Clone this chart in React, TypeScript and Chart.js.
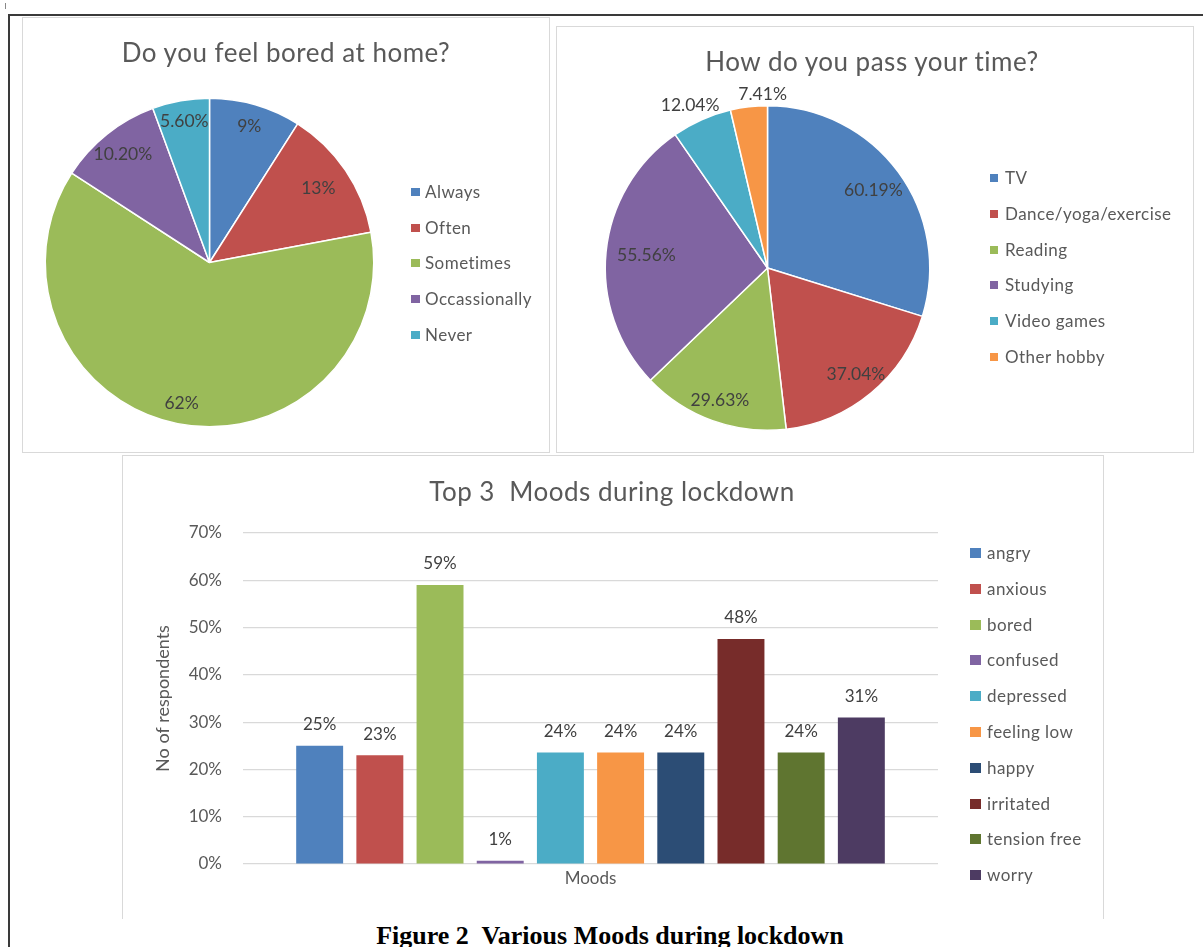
import React, { useEffect, useRef } from 'react';
import { Chart, registerables } from 'chart.js';

Chart.register(...registerables);

// ---------- data ----------
const boredLabels = ['Always', 'Often', 'Sometimes', 'Occassionally', 'Never'];
const boredValues = [9, 13, 62, 10.2, 5.6];
const boredColors = ['#4F81BD', '#C0504D', '#9BBB59', '#8064A2', '#4BACC6'];

const timeLabels = ['TV', 'Dance/yoga/exercise', 'Reading', 'Studying', 'Video games', 'Other hobby'];
const timeValues = [60.19, 37.04, 29.63, 55.56, 12.04, 7.41];
const timeColors = ['#4F81BD', '#C0504D', '#9BBB59', '#8064A2', '#4BACC6', '#F79646'];

const moodLabels = ['angry', 'anxious', 'bored', 'confused', 'depressed', 'feeling low', 'happy', 'irritated', 'tension free', 'worry'];
const moodValues = [25, 23, 59, 0.7, 23.6, 23.6, 23.6, 47.6, 23.6, 31];
const moodColors = ['#4F81BD', '#C0504D', '#9BBB59', '#8064A2', '#4BACC6', '#F79646', '#2C4D75', '#772C2A', '#5F7530', '#4D3B62'];
const moodCategory = ['Moods'];
const yMin = 0;
const yMax = 70;
const yStep = 10;

const FONT = 'Lato';
const TEXT = '#595959';
const LABEL = '#404040';

Chart.defaults.font.family = FONT;

const fmtPct = (v: number) => (Number.isInteger(v) ? `${v}%` : `${v.toFixed(2)}%`);

const sliceLabelPlugin = {
  id: 'sliceLabels',
  afterDatasetsDraw(chart: any, _args: any, opts: any) {
    if (!opts || !opts.radii) return;
    const ctx = chart.ctx;
    const meta = chart.getDatasetMeta(0);
    const values = chart.data.datasets[0].data as number[];
    ctx.save();
    ctx.font = `${opts.size}px ${FONT}`;
    ctx.fillStyle = LABEL;
    ctx.textAlign = 'center';
    ctx.textBaseline = 'middle';
    meta.data.forEach((arc: any, i: number) => {
      const p = arc.getProps(['x', 'y', 'startAngle', 'endAngle', 'outerRadius'], true);
      const a = (p.startAngle + p.endAngle) / 2 + ((opts.shifts && opts.shifts[i]) || 0) * Math.PI / 180;
      const r = p.outerRadius * opts.radii[i];
      ctx.fillText(fmtPct(values[i]), p.x + r * Math.cos(a), p.y + r * Math.sin(a));
    });
    ctx.restore();
  },
};

const barLabelPlugin = {
  id: 'barLabels',
  afterDatasetsDraw(chart: any, _args: any, opts: any) {
    const ctx = chart.ctx;
    ctx.save();
    ctx.font = `${opts.size}px ${FONT}`;
    ctx.fillStyle = LABEL;
    ctx.textAlign = 'center';
    ctx.textBaseline = 'middle';
    chart.data.datasets.forEach((ds: any, di: number) => {
      const meta = chart.getDatasetMeta(di);
      meta.data.forEach((bar: any, i: number) => {
        const p = bar.getProps(['x', 'y'], true);
        ctx.fillText(`${Math.round(ds.data[i])}%`, p.x, p.y - opts.gap);
      });
    });
    ctx.restore();
  },
};

function ChartBox({ left, top, width, height, config }: any) {
  const ref = useRef<HTMLCanvasElement>(null);
  useEffect(() => {
    const chart = new Chart(ref.current as HTMLCanvasElement, config);
    return () => chart.destroy();
  }, []);
  return (
    <canvas
      ref={ref}
      width={width}
      height={height}
      style={{ position: 'absolute', left, top, width, height }}
    />
  );
}

function CenterText({ cx, cy, size, text, style }: any) {
  const lh = Math.round(size * 1.3);
  return (
    <div
      style={{
        position: 'absolute',
        left: cx - 400,
        width: 800,
        top: cy - lh / 2,
        height: lh,
        lineHeight: `${lh}px`,
        fontSize: size,
        textAlign: 'center',
        whiteSpace: 'pre',
        fontFamily: FONT,
        color: TEXT,
        ...style,
      }}
    >
      {text}
    </div>
  );
}

function Legend({ labels, colors, markerX, textX, y0, step, size, mw, mh }: any) {
  const lh = Math.round(size * 1.3);
  return (
    <>
      {labels.map((l: string, i: number) => {
        const cy = y0 + step * i;
        return (
          <React.Fragment key={l}>
            <div style={{ position: 'absolute', left: markerX, top: cy - mh / 2, width: mw, height: mh, background: colors[i] }} />
            <div
              style={{
                position: 'absolute', left: textX, top: cy - lh / 2, height: lh, lineHeight: `${lh}px`,
                fontSize: size, fontFamily: FONT, color: TEXT, whiteSpace: 'pre', letterSpacing: 0.45,
              }}
            >
              {l}
            </div>
          </React.Fragment>
        );
      })}
    </>
  );
}

function Box({ left, top, width, height, color = '#d9d9d9', noBottom = false }: any) {
  return (
    <div
      style={{
        position: 'absolute', left, top, width, height, boxSizing: 'border-box',
        borderTop: `1px solid ${color}`, borderLeft: `1px solid ${color}`, borderRight: `1px solid ${color}`,
        borderBottom: noBottom ? 'none' : `1px solid ${color}`,
      }}
    />
  );
}

const pieBase = (labels: string[], values: number[], colors: string[], padding: any, radii: number[], shifts: number[]) => ({
  type: 'pie',
  data: {
    labels,
    datasets: [{ data: values, backgroundColor: colors, borderColor: '#ffffff', borderWidth: 1.5 }],
  },
  options: {
    responsive: false,
    animation: false,
    events: [],
    layout: { padding },
    plugins: {
      legend: { display: false },
      tooltip: { enabled: false },
      title: { display: false },
      sliceLabels: { radii, shifts, size: 17.5 },
    },
  },
  plugins: [sliceLabelPlugin],
});

const boredConfig = pieBase(
  boredLabels, boredValues, boredColors,
  { left: 21.5, top: 79.5, right: 173.5, bottom: 24.5 },
  [0.865, 0.8, 0.875, 0.845, 0.875],
  [0, 0, 0, 0, 0],
);

const timeConfig = pieBase(
  timeLabels, timeValues, timeColors,
  { left: 47.5, top: 78, right: 262.5, bottom: 21 },
  [0.81, 0.855, 0.865, 0.75, 1.11, 1.07],
  [0, 0, 0, 0, -1.5, 5],
);

const barConfig = {
  type: 'bar',
  data: {
    labels: moodCategory,
    datasets: moodLabels.map((l, i) => ({
      label: l,
      data: [moodValues[i]],
      backgroundColor: moodColors[i],
      barPercentage: 0.78,
      categoryPercentage: 0.866,
    })),
  },
  options: {
    responsive: false,
    animation: false,
    events: [],
    layout: { padding: { left: 0, right: 164, top: 77, bottom: 0 } },
    plugins: {
      legend: { display: false },
      tooltip: { enabled: false },
      barLabels: { size: 17, gap: 21 },
    },
    scales: {
      x: {
        grid: { display: false },
        border: { display: false },
        ticks: { display: false },
        title: { display: true, text: 'Moods', color: TEXT, font: { size: 17 }, padding: { top: 0, bottom: 28 } },
        afterFit: (s: any) => { s.height = 53; },
      },
      y: {
        min: yMin,
        max: yMax,
        ticks: { stepSize: yStep, callback: (v: any) => `${v}%`, color: TEXT, font: { size: 17 }, padding: 21 },
        grid: { color: '#d9d9d9', drawTicks: false, lineWidth: 1.2 },
        border: { display: false },
        title: { display: true, text: 'No of respondents', color: TEXT, font: { size: 18 }, padding: { top: 29, bottom: 0 } },
        afterFit: (s: any) => { s.width = 120; },
      },
    },
  },
  plugins: [barLabelPlugin],
};

export default function App() {
  return (
    <div style={{ position: 'absolute', left: 0, top: 0, width: 1203, height: 947, overflow: 'hidden', background: '#ffffff' }}>
      {/* page frame */}
      <div style={{ position: 'absolute', left: 8, top: 14, width: 1195, height: 2, background: '#3a3a3a' }} />
      <div style={{ position: 'absolute', left: 8, top: 14, width: 2, height: 933, background: '#3a3a3a' }} />
      <div style={{ position: 'absolute', left: 5, top: 3, width: 1, height: 6, background: '#888' }} />

      {/* panels */}
      <Box left={22} top={17} width={528} height={436} />
      <Box left={556} top={26} width={638} height={427} />
      <Box left={122} top={455} width={982} height={464} noBottom />

      {/* left pie */}
      <ChartBox left={23} top={18} width={525} height={434} config={boredConfig} />
      <CenterText cx={286} cy={52} size={26} text="Do you feel bored at home?" style={{ letterSpacing: 0.5 }} />
      <Legend labels={boredLabels} colors={boredColors} markerX={411} textX={425} y0={192} step={35.7} size={17} mw={9} mh={8} />

      {/* right pie */}
      <ChartBox left={557} top={27} width={636} height={425} config={timeConfig} />
      <CenterText cx={872} cy={61} size={26} text="How do you pass your time?" style={{ letterSpacing: 0.5 }} />
      <Legend labels={timeLabels} colors={timeColors} markerX={990} textX={1005} y0={178} step={35.8} size={17} mw={8} mh={8} />

      {/* bar chart */}
      <ChartBox left={123} top={456} width={979} height={461} config={barConfig} />
      <CenterText cx={612} cy={491} size={26} text="Top 3  Moods during lockdown" style={{ letterSpacing: 0.5 }} />
      <Legend labels={moodLabels} colors={moodColors} markerX={970} textX={987} y0={553} step={35.8} size={17} mw={11} mh={10} />

      {/* caption */}
      <CenterText
        cx={610}
        cy={936}
        size={26}
        text="Figure 2  Various Moods during lockdown"
        style={{ fontFamily: '"Liberation Serif", "Times New Roman", serif', fontWeight: 'bold', color: '#000000' }}
      />
    </div>
  );
}
